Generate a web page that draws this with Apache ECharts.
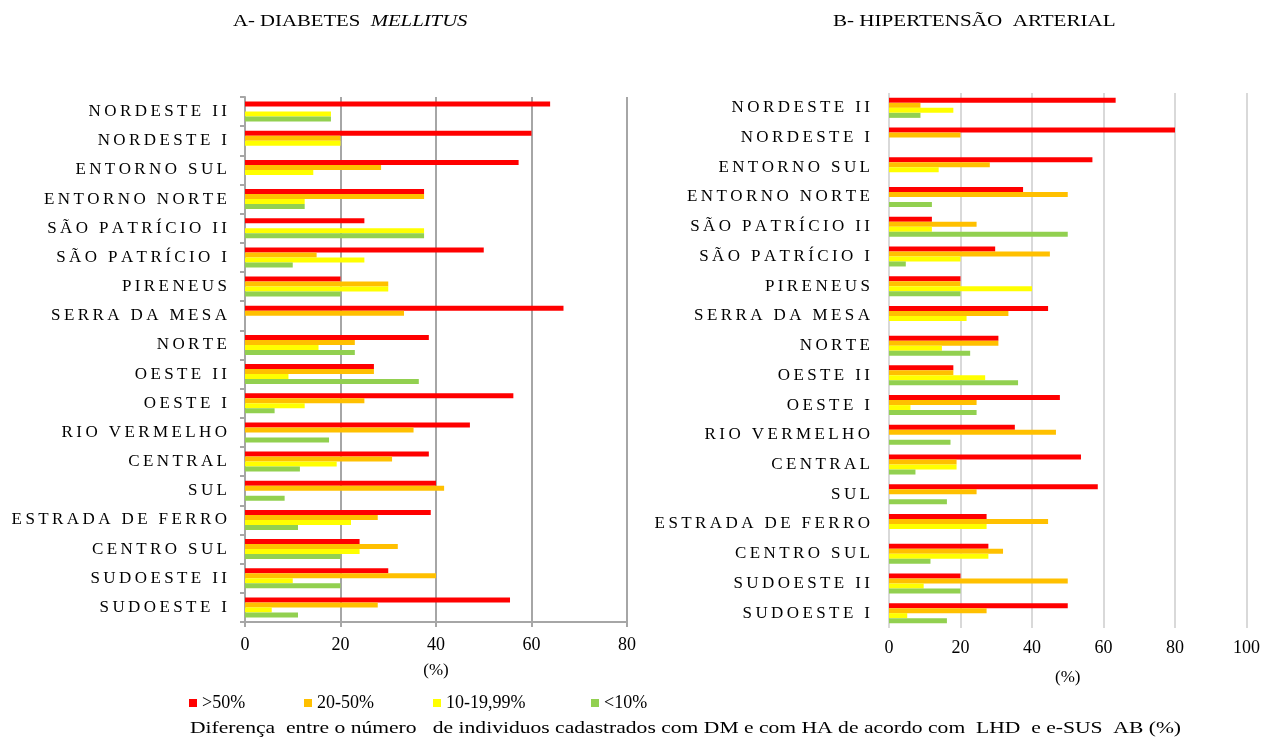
<!DOCTYPE html>
<html>
<head>
<meta charset="utf-8">
<title>DM e HA</title>
<script src="https://cdn.jsdelivr.net/npm/echarts@6/dist/echarts.min.js"></script>
<style>
    html, body { margin: 0; padding: 0; background: #fff; }
    #main { width: 1263px; height: 740px; }
</style>
</head>
<body>
<div id="main"></div>
<script>
var regioes = ['NORDESTE II', 'NORDESTE I', 'ENTORNO SUL', 'ENTORNO NORTE', 'SÃO PATRÍCIO II', 'SÃO PATRÍCIO I',
    'PIRENEUS', 'SERRA DA MESA', 'NORTE', 'OESTE II', 'OESTE I', 'RIO VERMELHO', 'CENTRAL', 'SUL',
    'ESTRADA DE FERRO', 'CENTRO SUL', 'SUDOESTE II', 'SUDOESTE I'];

var faixas = ['>50%', '20-50%', '10-19,99%', '<10%'];
var cores = ['#ff0000', '#ffc000', '#ffff00', '#92d050'];

// A - Diabetes Mellitus
var dmAcima50 = [63.9, 60, 57.3, 37.5, 25, 50, 20, 66.7, 38.5, 27, 56.2, 47.1, 38.5, 40, 38.9, 24, 30, 55.5];
var dm20a50 = [0, 20, 28.5, 37.5, 0, 15, 30, 33.3, 23, 27, 25, 35.3, 30.8, 41.7, 27.8, 32, 40, 27.8];
var dm10a19 = [18, 20, 14.3, 12.5, 37.5, 25, 30, 0, 15.4, 9.1, 12.5, 0, 19.2, 0, 22.2, 24, 10, 5.6];
var dmAbaixo10 = [18, 0, 0, 12.5, 37.5, 10, 20, 0, 23, 36.4, 6.2, 17.6, 11.5, 8.3, 11.1, 20, 20, 11.1];

// B - Hipertensão arterial
var haAcima50 = [63.4, 80, 56.9, 37.5, 12, 29.7, 20, 44.5, 30.6, 18, 47.8, 35.2, 53.7, 58.4, 27.3, 27.8, 20, 50];
var ha20a50 = [8.8, 20, 28.2, 50, 24.5, 45, 20, 33.4, 30.6, 18, 24.5, 46.7, 18.9, 24.5, 44.5, 31.9, 50, 27.3];
var ha10a19 = [18, 0, 13.9, 0, 12, 20, 40, 21.7, 14.8, 26.9, 6, 0, 18.9, 0, 27.3, 27.8, 9.7, 5.1];
var haAbaixo10 = [8.8, 0, 0, 12, 50, 4.7, 20, 0, 22.7, 36.1, 24.5, 17.2, 7.4, 16.2, 0, 11.6, 20, 16.2];

var fonte = 'Liberation Serif';
var posLegenda = [184, 299, 428, 586];

// espaçamento entre letras (o canvas não tem letterSpacing)
function espaca(v) {
    return String(v).split('').join('\u2009');
}

function montaSeries(listas, eixo) {
    var series = [];
    for (var i = 0; i < listas.length; i++) {
        series.push({
            name: faixas[i],
            type: 'bar',
            xAxisIndex: eixo,
            yAxisIndex: eixo,
            barWidth: 5,
            barGap: '0%',
            itemStyle: { color: cores[i] },
            data: listas[i]
        });
    }
    return series;
}

function montaLegendas() {
    var legendas = [];
    for (var i = 0; i < faixas.length; i++) {
        legendas.push({
            data: [faixas[i]],
            left: posLegenda[i],
            top: 689,
            icon: 'rect',
            itemWidth: 8,
            itemHeight: 8,
            itemGap: 4,
            textStyle: { fontFamily: fonte, fontSize: 18, color: '#000' }
        });
    }
    return legendas;
}

var myChart = echarts.init(document.getElementById('main'));
myChart.setOption({
    animation: false,
    color: cores,
    legend: montaLegendas(),
    graphic: [
        {
            type: 'text',
            left: 233,
            top: 13,
            scaleX: 1.22,
            style: {
                text: '{a|A- DIABETES  }{b|MELLITUS}',
                rich: {
                    a: { fontFamily: fonte, fontSize: 17, fill: '#000' },
                    b: { fontFamily: fonte, fontSize: 17, fontStyle: 'italic', fill: '#000' }
                }
            }
        },
        {
            type: 'text',
            left: 833,
            top: 13,
            scaleX: 1.24,
            style: {
                text: 'B- HIPERTENSÃO  ARTERIAL',
                fontFamily: fonte,
                fontSize: 17,
                fill: '#000'
            }
        },
        {
            type: 'text',
            left: 190,
            top: 720,
            scaleX: 1.27,
            style: {
                text: 'Diferença  entre o número   de individuos cadastrados com DM e com HA de acordo com  LHD  e e-SUS  AB (%)',
                fontFamily: fonte,
                fontSize: 17,
                fill: '#000'
            }
        }
    ],
    grid: [
        { left: 245, right: 636, top: 97, bottom: 118 },
        { left: 889, right: 15, top: 93, bottom: 112 }
    ],
    xAxis: [
        {
            gridIndex: 0,
            type: 'value',
            min: 0,
            max: 80,
            interval: 20,
            name: '(%)',
            nameLocation: 'middle',
            nameGap: 40,
            nameTextStyle: { fontFamily: fonte, fontSize: 17, color: '#000' },
            axisLine: { show: true, lineStyle: { color: '#a6a6a6', width: 2 } },
            axisTick: { show: true, length: 5, lineStyle: { color: '#a6a6a6', width: 2 } },
            splitLine: { lineStyle: { color: '#a6a6a6', width: 2 } },
            axisLabel: { fontFamily: fonte, fontSize: 18, color: '#000', margin: 14 }
        },
        {
            gridIndex: 1,
            type: 'value',
            min: 0,
            max: 100,
            interval: 20,
            name: '(%)',
            nameLocation: 'middle',
            nameGap: 41,
            nameTextStyle: { fontFamily: fonte, fontSize: 17, color: '#000' },
            axisLine: { show: false },
            axisTick: { show: false },
            splitLine: { lineStyle: { color: '#d9d9d9', width: 2 } },
            axisLabel: { fontFamily: fonte, fontSize: 18, color: '#000', margin: 11 }
        }
    ],
    yAxis: [
        {
            gridIndex: 0,
            type: 'category',
            inverse: true,
            data: regioes,
            axisLine: { show: true, lineStyle: { color: '#a6a6a6', width: 2 } },
            axisTick: { show: true, length: 5, lineStyle: { color: '#a6a6a6', width: 2 } },
            axisLabel: { fontFamily: fonte, fontSize: 17, color: '#000', margin: 18, formatter: espaca }
        },
        {
            gridIndex: 1,
            type: 'category',
            inverse: true,
            data: regioes,
            axisLine: { show: false },
            axisTick: { show: false },
            axisLabel: { fontFamily: fonte, fontSize: 17, color: '#000', margin: 19, formatter: espaca }
        }
    ],
    series: montaSeries([dmAcima50, dm20a50, dm10a19, dmAbaixo10], 0)
        .concat(montaSeries([haAcima50, ha20a50, ha10a19, haAbaixo10], 1))
});
</script>
</body>
</html>
